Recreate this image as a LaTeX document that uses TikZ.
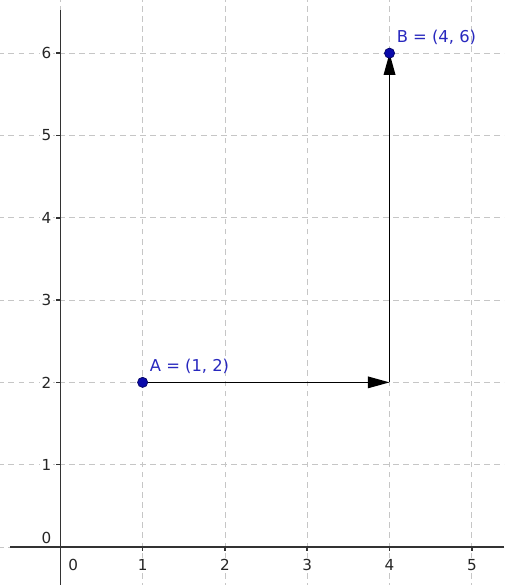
\documentclass[tikz,border=0pt]{standalone}
\usepackage{fontspec}
\setmainfont{DejaVu Sans}
\usetikzlibrary{arrows.meta}
\definecolor{ptblue}{RGB}{40,40,190}
\definecolor{dotblue}{RGB}{10,10,170}

\begin{document}
\begin{tikzpicture}[%
      x=2cm, y=2cm,
      gridline/.style={color=gray!45, line width=0.5pt, dash pattern=on 4pt off 3pt},
      axisline/.style={color=black!80, line width=1.1pt},
      ticklabel/.style={fill=white, inner sep=1pt, font=\fontsize{10.5}{12}\selectfont, text=black!85},
      ptlabel/.style={anchor=base west, inner sep=0pt, font=\fontsize{11.3}{13}\selectfont, text=ptblue},
      vecline/.style={color=black, line width=1pt, -{Triangle[length=15pt,width=8pt]}},
      ptdot/.style={fill=dotblue, draw=dotblue!60!black, line width=0.5pt},
      ]
      \useasboundingbox (-0.733,-0.462) rectangle (5.391,6.646);
      \clip (-0.733,-0.462) rectangle (5.391,6.646);
      \draw [gridline, step=1] (-1,-1) grid (6,7);

      \draw [axisline] (-0.611,0) -- (5.391,0);
      \draw [axisline] (0,-0.462) -- (0,6.525);
      \foreach \i in {1,...,5} \draw [axisline] (\i,0) -- (\i,-0.05);
      \foreach \j in {1,...,6} \draw [axisline] (0,\j) -- (-0.05,\j);

      \foreach \i in {1,...,5} \node [ticklabel] (xl\i) at (\i,-0.219) {\i};
      \node [ticklabel] (xl0) at (0.155,-0.219) {0};
      \foreach \j in {1,...,6} \node [ticklabel] (yl\j) at (-0.17,\j) {\j};
      \node [ticklabel] (yl0) at (-0.17,0.11) {0};

      \coordinate (A) at (1,2);
      \coordinate (C) at (4,2);
      \coordinate (B) at (4,6);
      \draw [vecline] (A) -- (C);
      \draw [vecline] (C) -- (B);

      \filldraw [ptdot] (A) circle (3.5pt);
      \filldraw [ptdot] (B) circle (3.5pt);

      \node [ptlabel] (Alab) at (1.085,2.13) {A = (1, 2)};
      \node [ptlabel] (Blab) at (4.085,6.13) {B = (4, 6)};
\end{tikzpicture}
\end{document}
